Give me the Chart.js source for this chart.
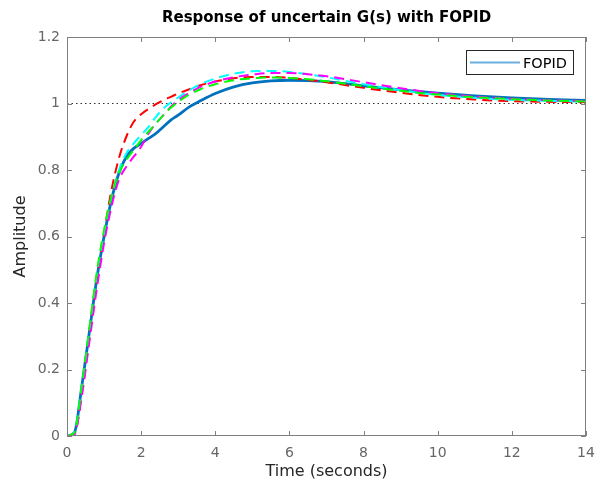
<!DOCTYPE html>
<html>
<head>
<meta charset="utf-8">
<script src="https://cdn.jsdelivr.net/npm/chart.js@4/dist/chart.umd.min.js"></script>
<style>
  html, body { margin: 0; padding: 0; background: #fff; }
  #wrap { width: 608px; height: 487px; }
</style>
</head>
<body>
<div id="wrap"><canvas id="step"></canvas></div>
<script>
// time samples (s) and step responses
var time    = [0, 0.2, 0.4, 0.6, 0.8, 1.0, 1.2, 1.4, 1.6, 1.8, 2.0, 2.2, 2.4, 2.6, 2.8, 3.0, 3.3, 3.6, 4.0, 4.5, 5, 5.5, 6, 6.5, 7, 8, 9, 10, 11, 12, 13, 14];
var fopid   = [0, 0.01, 0.15, 0.31, 0.47, 0.60, 0.71, 0.79, 0.84, 0.865, 0.88, 0.895, 0.91, 0.93, 0.95, 0.965, 0.99, 1.008, 1.03, 1.05, 1.062, 1.068, 1.07, 1.069, 1.066, 1.053, 1.041, 1.031, 1.023, 1.017, 1.012, 1.009];
var redRun  = [0, 0.005, 0.13, 0.30, 0.47, 0.61, 0.74, 0.835, 0.9, 0.945, 0.968, 0.984, 0.998, 1.01, 1.02, 1.03, 1.043, 1.055, 1.066, 1.076, 1.08, 1.08, 1.077, 1.071, 1.064, 1.047, 1.032, 1.02, 1.012, 1.007, 1.005, 1.004];
var cyanRun = [0, 0.01, 0.15, 0.31, 0.48, 0.61, 0.72, 0.80, 0.85, 0.88, 0.905, 0.93, 0.96, 0.985, 1.003, 1.018, 1.04, 1.058, 1.075, 1.09, 1.097, 1.098, 1.095, 1.088, 1.079, 1.058, 1.04, 1.026, 1.017, 1.011, 1.008, 1.006];
var magRun  = [0, 0.005, 0.12, 0.28, 0.44, 0.58, 0.69, 0.77, 0.81, 0.84, 0.87, 0.91, 0.94, 0.965, 0.99, 1.01, 1.032, 1.05, 1.066, 1.079, 1.087, 1.092, 1.092, 1.088, 1.082, 1.064, 1.046, 1.031, 1.021, 1.014, 1.01, 1.007];
var greenRun = [0, 0.01, 0.15, 0.32, 0.49, 0.62, 0.72, 0.79, 0.83, 0.86, 0.89, 0.915, 0.94, 0.965, 0.987, 1.005, 1.027, 1.043, 1.058, 1.07, 1.076, 1.078, 1.077, 1.073, 1.067, 1.052, 1.038, 1.027, 1.019, 1.013, 1.009, 1.006];
var refLevel = [1, 1];
var refTime  = [0, 14];

var FONT = '"DejaVu Sans", Verdana, sans-serif';

function pts(xs, ys) {
    return xs.map(function (x, i) { return { x: x, y: ys[i] }; });
}

function dashed(label, data, color) {
    return {
        label: label,
        data: pts(time, data),
        borderColor: color,
        borderWidth: 2,
        borderDash: [10, 6],
        pointRadius: 0,
        fill: false,
        cubicInterpolationMode: 'monotone',
        order: 1
    };
}

// MATLAB style box with inward ticks, legend and title
var matlabBox = {
    id: 'matlabBox',
    afterDraw: function (chart) {
        var c = chart.ctx, a = chart.chartArea;
        var xs = chart.scales.x, ys = chart.scales.y;
        c.save();
        c.strokeStyle = '#808080';
        c.lineWidth = 1;
        c.strokeRect(a.left + 0.5, a.top + 0.5, a.right - a.left - 1, a.bottom - a.top - 1);
        c.beginPath();
        xs.ticks.forEach(function (t) {
            var px = Math.round(xs.getPixelForValue(t.value)) + 0.5;
            c.moveTo(px, a.bottom); c.lineTo(px, a.bottom - 5);
            c.moveTo(px, a.top); c.lineTo(px, a.top + 5);
        });
        ys.ticks.forEach(function (t) {
            var py = Math.round(ys.getPixelForValue(t.value)) + 0.5;
            c.moveTo(a.left, py); c.lineTo(a.left + 5, py);
            c.moveTo(a.right, py); c.lineTo(a.right - 5, py);
        });
        c.stroke();

        // legend
        c.fillStyle = '#fff';
        c.fillRect(466, 50, 107, 24);
        c.strokeStyle = '#262626';
        c.strokeRect(466.5, 50.5, 107, 24);
        c.strokeStyle = '#6aaee0';
        c.lineWidth = 2;
        c.beginPath(); c.moveTo(470, 62.5); c.lineTo(520, 62.5); c.stroke();
        c.fillStyle = '#000';
        c.font = '14.5px ' + FONT;
        c.textBaseline = 'alphabetic';
        c.fillText('FOPID', 523, 68);

        // title
        c.font = 'bold 15px ' + FONT;
        c.textAlign = 'center';
        c.fillText('Response of uncertain G(s) with FOPID', (a.left + a.right) / 2, 22);
        c.restore();
    }
};

var ctx = document.getElementById('step').getContext('2d');
var chart = new Chart(ctx, {
    type: 'line',
    data: {
        datasets: [
            {
                label: 'FOPID',
                data: pts(time, fopid),
                borderColor: '#0072bd',
                borderWidth: 2.8,
                pointRadius: 0,
                fill: false,
                cubicInterpolationMode: 'monotone',
                order: 5
            },
            dashed('G2', greenRun, '#00ff00'),
            dashed('G3', magRun, '#ff00ff'),
            dashed('G4', cyanRun, '#00ffff'),
            dashed('G5', redRun, '#ff0000'),
            {
                label: 'ref',
                data: pts(refTime, refLevel),
                borderColor: '#333',
                borderWidth: 1.2,
                borderDash: [1.5, 3],
                pointRadius: 0,
                fill: false,
                order: 6
            }
        ]
    },
    options: {
        responsive: true,
        maintainAspectRatio: false,
        animation: false,
        layout: { padding: { left: 0, right: 22, top: 37, bottom: 0 } },
        plugins: {
            legend: { display: false },
            tooltip: { enabled: false }
        },
        scales: {
            x: {
                type: 'linear',
                min: 0,
                max: 14,
                afterFit: function (s) { s.height = 51; },
                grid: { display: false, drawTicks: false },
                border: { display: false },
                ticks: {
                    stepSize: 2,
                    padding: 9,
                    color: '#666',
                    font: { family: FONT, size: 14 }
                },
                title: {
                    display: true,
                    text: 'Time (seconds)',
                    color: '#262626',
                    padding: { top: 0, bottom: 6 },
                    font: { family: FONT, size: 16 }
                }
            },
            y: {
                min: 0,
                max: 1.2,
                afterFit: function (s) { s.width = 67; },
                grid: { display: false, drawTicks: false },
                border: { display: false },
                ticks: {
                    stepSize: 0.2,
                    padding: 7,
                    color: '#666',
                    font: { family: FONT, size: 14 },
                    callback: function (v) { return String(+v.toFixed(1)); }
                },
                title: {
                    display: true,
                    text: 'Amplitude',
                    color: '#262626',
                    padding: { top: 11, bottom: 0 },
                    font: { family: FONT, size: 16 }
                }
            }
        }
    },
    plugins: [matlabBox]
});
</script>
</body>
</html>
